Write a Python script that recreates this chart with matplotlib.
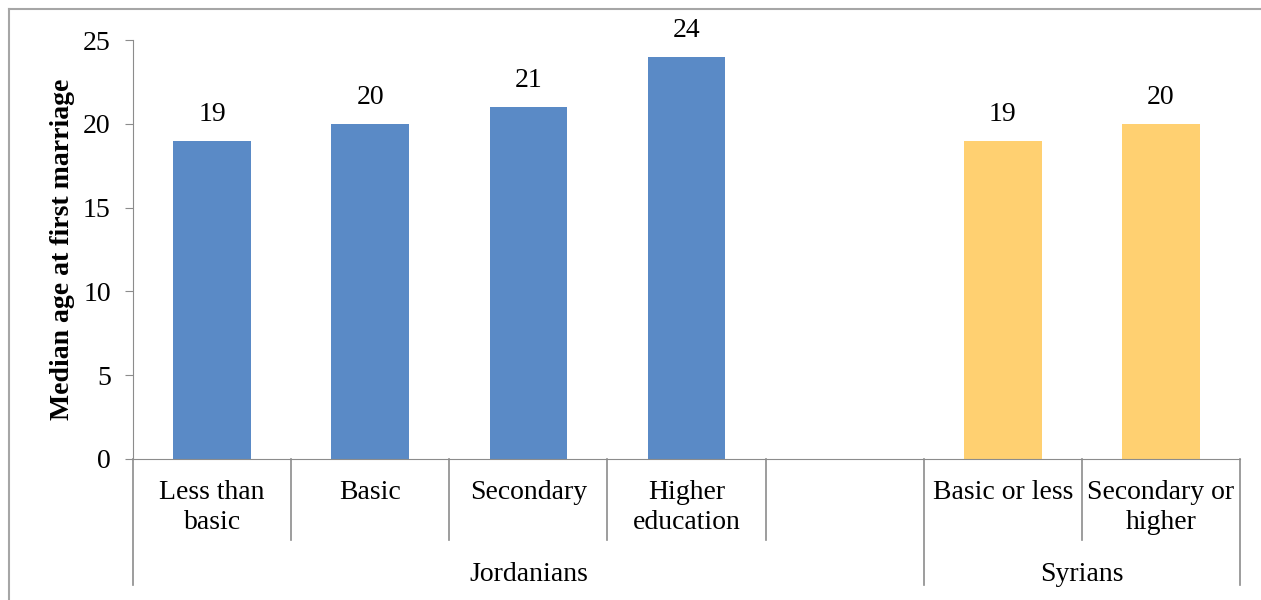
import numpy as np
import matplotlib.pyplot as plt

# categories (empty slot between the two groups)
categories = ['Less than\nbasic', 'Basic', 'Secondary', 'Higher\neducation', '',
              'Basic or less', 'Secondary or\nhigher']
values = [19, 20, 21, 24, None, 19, 20]
nationality = ['J', 'J', 'J', 'J', '', 'S', 'S']
groups = ['Jordanians', 'Syrians']
group_spans = [(0, 4), (5, 6)]   # first/last slot of each group

col = {'J': '#5A8AC6', 'S': '#FFD071'}
grid = '#8C8C8C'
fs = 20

plt.rcParams['font.family'] = ['Liberation Serif', 'DejaVu Serif']

fig = plt.figure(figsize=(12.61, 6.0), dpi=100)
ax = fig.add_axes([133/1261, 141/600, 1107/1261, 419/600])

# outer frame of the chart area
fig.add_artist(plt.Line2D([9/1261, 1.0], [1-9/600, 1-9/600], color='#A6A6A6', lw=1.5))
fig.add_artist(plt.Line2D([9/1261, 9/1261], [0, 1-9/600], color='#A6A6A6', lw=1.5))

x = np.arange(len(categories))
for i, v in enumerate(values):
    if v is None:
        continue
    ax.bar(x[i], v, width=0.49, color=col[nationality[i]], zorder=2)
    ax.annotate(str(v), (x[i], v), xytext=(0, 10), textcoords='offset points',
                ha='center', va='bottom', fontsize=fs)

ax.set_xlim(-0.5, len(categories) - 0.5)
ax.set_ylim(0, 25)
ax.set_yticks(np.arange(0, 26, 5))
ax.tick_params(axis='y', length=6, color=grid, labelsize=fs, pad=10)
ax.set_xticks([])
for s in ['top', 'right']:
    ax.spines[s].set_visible(False)
ax.spines['left'].set_color(grid)
ax.spines['bottom'].set_color(grid)
ax.set_ylabel('Median age at first marriage', fontsize=fs, fontweight='bold', labelpad=6)

# category labels and separators
tr = ax.get_xaxis_transform()
for i, lab in enumerate(categories):
    ax.text(x[i], -0.05, lab, transform=tr, ha='center', va='top', fontsize=fs,
            linespacing=1.25)
inner_bounds = [0.5, 1.5, 2.5, 3.5, 5.5]
for b in inner_bounds:
    ax.plot([b, b], [0, -0.193], transform=tr, color=grid, lw=1.2, clip_on=False)

# group labels and outer separators
for g, (a, b) in zip(groups, group_spans):
    ax.text((a + b) / 2, -0.275, g, transform=tr, ha='center', va='center', fontsize=fs)
outer_bounds = [-0.5, 4.5, 6.5]
for b in outer_bounds:
    ax.plot([b, b], [0, -0.301], transform=tr, color=grid, lw=1.2, clip_on=False)

fig.savefig('out.png', dpi=100)
